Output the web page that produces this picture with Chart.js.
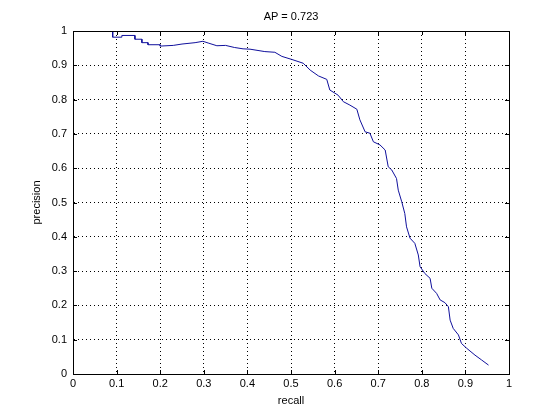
<!DOCTYPE html>
<html><head><meta charset="utf-8">
<script src="https://cdn.jsdelivr.net/npm/chart.js@4/dist/chart.umd.min.js"></script>
<style>html,body{margin:0;padding:0;background:#fff;}#wrap{width:560px;height:419px;}</style>
</head><body><div id="wrap"><canvas id="c" width="560" height="419"></canvas></div>
<script>
const chartTitle = "AP = 0.723";
const xLabel = "recall";
const yLabel = "precision";
const tickValues = [0,0.1,0.2,0.3,0.4,0.5,0.6,0.7,0.8,0.9,1];
const recall = [0.091,0.091,0.112,0.112,0.142,0.142,0.158,0.158,0.172,0.172,0.200,0.200,0.230,0.250,0.280,0.298,0.310,0.330,0.350,0.370,0.390,0.406,0.440,0.463,0.479,0.502,0.528,0.544,0.563,0.582,0.589,0.608,0.620,0.635,0.651,0.658,0.670,0.681,0.689,0.704,0.716,0.723,0.731,0.742,0.746,0.754,0.761,0.765,0.773,0.784,0.792,0.796,0.807,0.819,0.823,0.834,0.842,0.853,0.861,0.865,0.872,0.884,0.891,0.903,0.922,0.937,0.953];
const precision = [1.000,0.982,0.982,0.987,0.987,0.976,0.976,0.966,0.966,0.960,0.960,0.956,0.958,0.962,0.966,0.970,0.965,0.957,0.958,0.952,0.948,0.947,0.940,0.938,0.926,0.917,0.906,0.886,0.869,0.859,0.828,0.813,0.794,0.784,0.772,0.741,0.706,0.702,0.677,0.668,0.653,0.604,0.595,0.570,0.536,0.502,0.468,0.429,0.396,0.381,0.347,0.313,0.293,0.279,0.250,0.235,0.216,0.208,0.196,0.157,0.133,0.114,0.089,0.075,0.055,0.041,0.026];

const pts = recall.map((r,i)=>({x:r,y:precision[i]}));
const FONT = "'Liberation Sans', Arial, Helvetica, sans-serif";

const deco = {
  id:'deco',
  afterDraw(chart){
    const ctx = chart.ctx, a = chart.chartArea;
    const xs = chart.scales.x, ys = chart.scales.y;
    ctx.save();
    ctx.strokeStyle = '#000'; ctx.lineWidth = 1;
    ctx.strokeRect(Math.round(a.left)+0.5, Math.round(a.top)+0.5, Math.round(a.right-a.left), Math.round(a.bottom-a.top));
    ctx.beginPath();
    tickValues.forEach(v=>{
      const px = Math.round(xs.getPixelForValue(v))+0.5;
      ctx.moveTo(px,a.bottom); ctx.lineTo(px,a.bottom-4);
      ctx.moveTo(px,a.top); ctx.lineTo(px,a.top+4);
      const py = Math.round(ys.getPixelForValue(v))+0.5;
      ctx.moveTo(a.left,py); ctx.lineTo(a.left+4,py);
      ctx.moveTo(a.right,py); ctx.lineTo(a.right-4,py);
    });
    ctx.stroke();
    ctx.fillStyle = '#000';
    ctx.font = '11px ' + FONT;
    ctx.textAlign = 'center'; ctx.textBaseline = 'middle';
    const cx = (a.left+a.right)/2;
    ctx.fillText(chartTitle, cx, 17);
    ctx.fillText(xLabel, cx, 401);
    ctx.translate(37,(a.top+a.bottom)/2);
    ctx.rotate(-Math.PI/2);
    ctx.fillText(yLabel, 0, 0);
    ctx.restore();
  }
};

new Chart(document.getElementById('c'), {
  type:'line',
  data:{datasets:[{data:pts, borderColor:'#10109c', borderWidth:1, pointRadius:0, fill:false, tension:0}]},
  options:{
    responsive:false, animation:false,
    layout:{padding:{left:0,right:51,top:31,bottom:0}},
    plugins:{legend:{display:false}, title:{display:false}, tooltip:{enabled:false}},
    scales:{
      x:{type:'linear', min:0, max:1,
        afterFit(s){s.height=45;},
        afterBuildTicks(s){s.ticks = tickValues.map(v=>({value:v}));},
        grid:{color:'#000', lineWidth:1, drawTicks:false},
        border:{display:true,color:'#000',dash:[1,3]},
        ticks:{color:'#000', padding:3, font:{family:FONT,size:11}, maxRotation:0, callback:v=>String(v)}
      },
      y:{type:'linear', min:0, max:1,
        afterFit(s){s.width=73;},
        afterBuildTicks(s){s.ticks = tickValues.map(v=>({value:v}));},
        grid:{color:'#000', lineWidth:1, drawTicks:false},
        border:{display:true,color:'#000',dash:[1,3]},
        ticks:{color:'#000', padding:6, font:{family:FONT,size:11}, callback:v=>String(v)}
      }
    }
  },
  plugins:[deco]
});
</script></body></html>
